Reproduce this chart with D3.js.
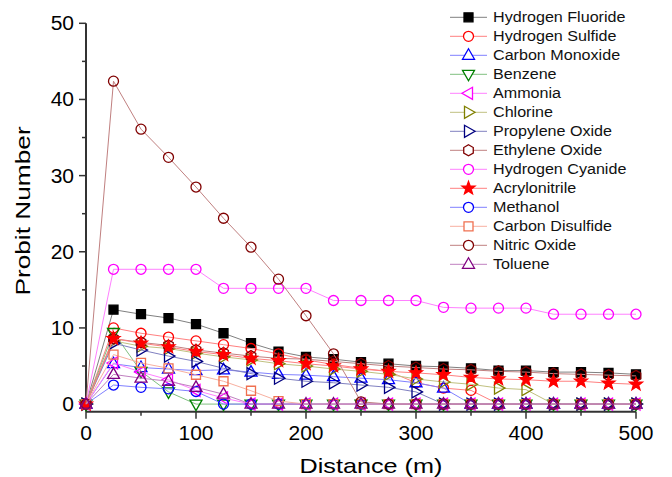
<!DOCTYPE html>
<html><head><meta charset="utf-8">
<script src="https://cdn.jsdelivr.net/npm/d3@7"></script>
<style>body{margin:0;background:#fff} text{font-family:"Liberation Sans",Arial,sans-serif}</style>
</head><body><svg id="c" width="672" height="477"></svg>
<script>
const distance = [0,25,50,75,100,125,150,175,200,225,250,275,300,325,350,375,400,425,450,475,500];
const seriesNames = ["Hydrogen Fluoride","Hydrogen Sulfide","Carbon Monoxide","Benzene","Ammonia","Chlorine","Propylene Oxide","Ethylene Oxide","Hydrogen Cyanide","Acrylonitrile","Methanol","Carbon Disulfide","Nitric Oxide","Toluene"];
const hydrogenFluoride = [0,12.4,11.8,11.3,10.5,9.3,8.0,6.9,6.2,5.9,5.5,5.3,5.0,4.9,4.7,4.4,4.4,4.2,4.2,4.1,3.9];
const hydrogenSulfide  = [0,10.0,9.3,8.8,8.3,7.8,7.3,6.6,5.8,5.2,4.7,4.3,2.8,2.1,1.8,0,0,0,0,0,0];
const carbonMonoxide   = [0,5.3,4.8,4.6,4.4,4.5,4.2,3.9,3.8,3.6,3.4,3.2,2.8,2.1,0,0,0,0,0,0,0];
const benzene          = [0,9.4,4.3,1.6,0,0,0,0,0,0,0,0,0,0,0,0,0,0,0,0,0];
const ammonia          = [0,5.4,4.2,3.2,1.8,0.8,0,0,0,0,0,0,0,0,0,0,0,0,0,0,0];
const chlorine         = [0,8.3,7.6,7.3,6.7,6.2,5.8,5.3,5.0,4.6,4.3,3.9,3.3,2.9,2.6,2.1,1.9,0,0,0,0];
const propyleneOxide   = [0,8.0,7.1,6.3,5.6,4.7,4.0,3.4,3.0,2.8,2.5,2.2,1.6,0,0,0,0,0,0,0,0];
const ethyleneOxide    = [0,8.6,8.1,7.7,7.1,6.7,6.3,6.0,5.9,5.6,5.3,5.0,4.8,4.6,4.5,4.3,4.2,4.0,3.9,3.8,3.7];
const hydrogenCyanide  = [0,17.7,17.7,17.7,17.7,15.2,15.2,15.2,15.2,13.6,13.6,13.6,13.6,12.7,12.6,12.6,12.6,11.8,11.8,11.8,11.8];
const acrylonitrile    = [0,8.6,8.0,7.5,6.9,6.5,6.0,5.7,5.3,5.0,4.6,4.3,4.1,3.85,3.5,3.3,3.2,3.0,3.0,2.75,2.6];
const methanol         = [0,2.5,2.2,2.0,1.65,0,0,0,0,0,0,0,0,0,0,0,0,0,0,0,0];
const carbonDisulfide  = [0,6.5,5.4,4.7,3.85,3.0,1.75,0.4,0,0,0,0,0,0,0,0,0,0,0,0,0];
const nitricOxide      = [0,42.4,36.1,32.4,28.5,24.4,20.6,16.4,11.6,6.6,0.3,0,0,0,0,0,0,0,0,0,0];
const toluene          = [0,3.9,3.4,3.0,2.2,1.3,0,0,0,0,0,0,0,0,0,0,0,0,0,0,0];
const xTicks = [0,100,200,300,400,500];
const yTicks = [0,10,20,30,40,50];

const seriesValues = [hydrogenFluoride,hydrogenSulfide,carbonMonoxide,benzene,ammonia,chlorine,propyleneOxide,ethyleneOxide,hydrogenCyanide,acrylonitrile,methanol,carbonDisulfide,nitricOxide,toluene];
const markerColors = ["#000000","#FF0000","#0000FF","#008000","#FF00FF","#808000","#000080","#800000","#FF00FF","#FF0000","#0000FF","#F07050","#800000","#800080"];
const lineColors   = ["#808080","#FF8080","#8080FF","#80C080","#FF80FF","#C0C080","#8080C0","#C08080","#FF80FF","#FF8080","#8080FF","#F8B0A0","#C08080","#C080C0"];
const shapes = ["square","circle","triUp","triDown","triLeft","triRight","triRight","hexagon","circle","star","circle","square","circle","triUp"];
const filled = [true,false,false,false,false,false,false,false,false,true,false,false,false,false];

function shapePath(s){
  switch(s){
    case "square": return "M-4.5,-4.5h9v9h-9Z";
    case "circle": return "M5,0A5,5 0 1,1 -5,0A5,5 0 1,1 5,0Z";
    case "triUp": return "M0,-6.5L6,4L-6,4Z";
    case "triDown": return "M0,6.5L6,-4L-6,-4Z";
    case "triLeft": return "M-6.5,0L4,-6L4,6Z";
    case "triRight": return "M6.5,0L-4,-6L-4,6Z";
    case "hexagon": {
      let p=[]; for(let k=0;k<6;k++){const a=(-90+60*k)*Math.PI/180; p.push([5.5*Math.cos(a),5.5*Math.sin(a)]);}
      return "M"+p.map(d=>d.join(",")).join("L")+"Z";
    }
    case "star": {
      let p=[]; for(let k=0;k<10;k++){const r=k%2?2.8:6.8; const a=(-90+36*k)*Math.PI/180; p.push([r*Math.cos(a),r*Math.sin(a)]);}
      return "M"+p.map(d=>d.join(",")).join("L")+"Z";
    }
  }
}
function stretch(sel, f){
  sel.each(function(){ const w=this.getComputedTextLength(); d3.select(this).attr("textLength",w*f).attr("lengthAdjust","spacingAndGlyphs"); });
}

const svg = d3.select("#c");
const x = d3.scaleLinear().domain([0,500]).range([86,636]);
const y = d3.scaleLinear().domain([-1,50]).range([411.7,23.3]);

// axes
const xAxis = svg.append("g").attr("transform","translate(0,411.7)");
xAxis.append("line").attr("x1",x(0)).attr("x2",x(500)).attr("stroke","#333").attr("stroke-width",2);
const xMinor = d3.range(50,500,100);
xAxis.selectAll(".xm").data(xMinor).join("line").attr("x1",d=>x(d)).attr("x2",d=>x(d)).attr("y1",0).attr("y2",4).attr("stroke","#333").attr("stroke-width",1.5);
xAxis.selectAll(".xM").data(xTicks).join("line").attr("x1",d=>x(d)).attr("x2",d=>x(d)).attr("y1",0).attr("y2",7).attr("stroke","#333").attr("stroke-width",1.5);
xAxis.selectAll(".xl").data(xTicks).join("text").attr("x",d=>x(d)).attr("y",28.5).attr("text-anchor","middle").attr("font-size",20).attr("fill","#000").text(d=>d).call(stretch,1.05);

const yAxis = svg.append("g").attr("transform","translate(86,0)");
yAxis.append("line").attr("y1",y(-1)).attr("y2",y(50)).attr("stroke","#333").attr("stroke-width",2);
const yMinor = d3.range(5,50,10);
yAxis.selectAll(".ym").data(yMinor).join("line").attr("y1",d=>y(d)).attr("y2",d=>y(d)).attr("x1",0).attr("x2",-4).attr("stroke","#333").attr("stroke-width",1.5);
yAxis.selectAll(".yM").data(yTicks).join("line").attr("y1",d=>y(d)).attr("y2",d=>y(d)).attr("x1",0).attr("x2",-7).attr("stroke","#333").attr("stroke-width",1.5);
yAxis.selectAll(".yl").data(yTicks).join("text").attr("x",-12).attr("y",d=>y(d)+7).attr("text-anchor","end").attr("font-size",20).attr("fill","#000").text(d=>d).call(stretch,1.05);

svg.append("text").attr("x",371).attr("y",473).attr("text-anchor","middle").attr("font-size",21).text("Distance (m)").call(stretch,1.2);
svg.append("text").attr("transform","translate(30,211) rotate(-90)").attr("text-anchor","middle").attr("font-size",21).text("Probit Number").call(stretch,1.25);

// series
const line = d3.line().x((d,i)=>x(distance[i])).y(d=>y(d));
seriesValues.forEach((vals,si)=>{
  const g = svg.append("g");
  g.append("path").attr("d",line(vals)).attr("fill","none").attr("stroke",lineColors[si]).attr("stroke-width",1);
  g.selectAll("path.m").data(vals).join("path").attr("class","m")
    .attr("transform",(d,i)=>`translate(${x(distance[i])},${y(d)})`)
    .attr("d",shapePath(shapes[si]))
    .attr("fill",filled[si]?markerColors[si]:"none")
    .attr("stroke",markerColors[si]).attr("stroke-width",1.3);
});

// legend
const lg = svg.append("g");
seriesNames.forEach((n,i)=>{
  const cy = 17.3 + 19*i;
  lg.append("line").attr("x1",450).attr("x2",487).attr("y1",cy).attr("y2",cy).attr("stroke",lineColors[i]).attr("stroke-width",1);
  lg.append("path").attr("transform",`translate(468.5,${cy})`).attr("d",shapePath(shapes[i]))
    .attr("fill",filled[i]?markerColors[i]:"#fff").attr("stroke",markerColors[i]).attr("stroke-width",1.3);
  lg.append("text").attr("x",493).attr("y",cy+5).attr("font-size",14).attr("fill","#111").text(n).call(stretch,1.15);
});
</script></body></html>
